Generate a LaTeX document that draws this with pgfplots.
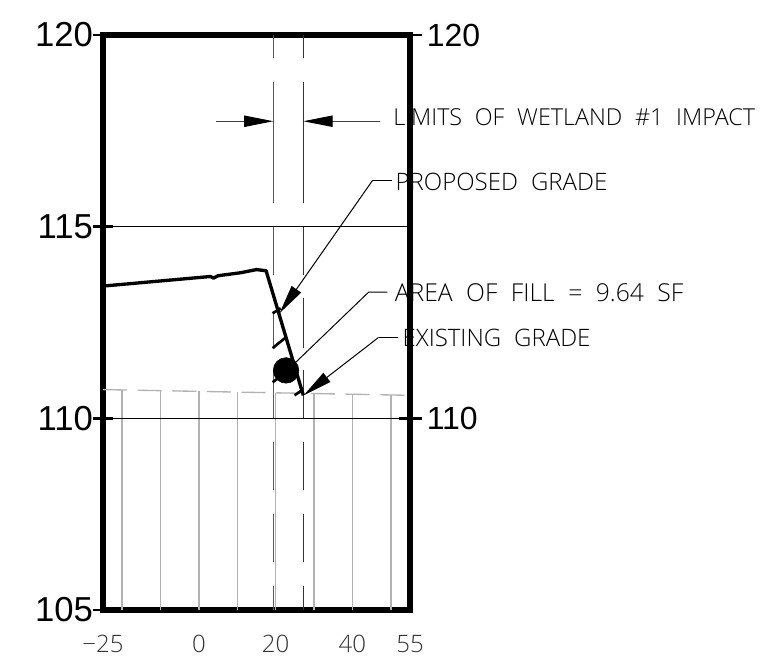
\documentclass[border=0pt]{standalone}
\usepackage{pgfplots}
\pgfplotsset{compat=1.18}
\usetikzlibrary{arrows.meta}
\usepackage{fontspec}
\setmainfont{Liberation Sans}
\newfontfamily\cad[WordSpace=2.1]{Open Sans Light}
\definecolor{grade}{gray}{0.70}
\tikzset{head/.style={-{Triangle[length=22pt,width=8.5pt,color=black]}}}
\begin{document}
\begin{tikzpicture}[x=1pt,y=1pt]
\begin{axis}[
  name=a,
  scale only axis,
  width=230.25pt, height=431.25pt,
  xmin=-25, xmax=55, ymin=105, ymax=120,
  clip=false,
  axis line style={line width=4.5pt, line cap=rect},
  xtick={-25,0,20,40,55},
  xticklabels={−25,0,20,40,55},
  ytick={105,110,115,120},
  xticklabel style={font=\cad\fontsize{18}{18}\selectfont, text=black!80, yshift=-15.5pt},
  yticklabel style={font=\fontsize{26}{26}\selectfont, xshift=-4pt},
  /pgf/number format/assume math mode=true,
  tick style={draw=none},
]
% grey existing ground and station lines
\addplot[grade, line width=1pt, dash pattern=on 18pt off 8pt] coordinates {(-25,110.75) (55,110.6)};
\foreach \s/\t in {-20/110.74,-10/110.72,0/110.7,10/110.68,20/110.66,30/110.64,40/110.62,50/110.6}{
  \edef\tmp{\noexpand\addplot[grade, line width=1.1pt] coordinates {(\s,105) (\s,\t)};}
  \tmp
}

% horizontal lines
\addplot[black, line width=0.8pt] coordinates {(-25,115) (55,115)};
\addplot[black, line width=0.8pt] coordinates {(-25,110) (55,110)};

% wetland limits
\addplot[black!65, line width=1.1pt, dash pattern=on 17.25pt off 18pt on 90.75pt off 18pt on 36pt off 27.75pt on 26.25pt off 17.25pt on 36pt off 18pt on 36pt off 18pt on 36pt off 18pt on 18pt] coordinates {(19.4,120) (19.4,105)};
\addplot[black!80, line width=1pt, dash pattern=on 17.25pt off 18pt on 90.75pt off 18pt on 36pt off 17.25pt on 37.5pt off 16.5pt on 36pt off 18pt on 36pt off 18pt on 36pt off 18pt on 18pt] coordinates {(27.2,120) (27.2,105)};

% grade
\addplot[black, line width=2.5pt, line join=round] coordinates {
 (-25,113.45) (3,113.7) (3.8,113.66) (5,113.72) (11,113.8) (15,113.88) (17.5,113.85) (27.2,110.6)};
% fill hatching
\addplot[black, line width=2pt] coordinates {(19.2,112.74) (21.3,112.87)};
\addplot[black, line width=2pt] coordinates {(19.2,111.83) (22.6,112.11)};
\addplot[black, line width=2pt] coordinates {(19.2,110.94) (20.5,111.04)};
\addplot[black, line width=2pt] coordinates {(24.9,110.6) (26.8,110.73)};
\addplot[only marks, mark=*, mark size=9.6pt, black] coordinates {(22.7,111.25)};

% limit arrows and leaders
\addplot[black!75, line width=0.8pt, head] coordinates {(4.4,117.75) (19.4,117.75)};
\addplot[black!75, line width=0.8pt, head] coordinates {(47.3,117.75) (27.2,117.75)};
\addplot[black, line width=0.75pt, head] coordinates {(45.2,116.2) (21,112.74)};
\addplot[black, line width=0.75pt] coordinates {(45.2,116.2) (50.4,116.2)};
\addplot[black, line width=0.75pt] coordinates {(25.2,111.46) (44.2,113.29) (49.1,113.29)};
\addplot[black, line width=0.75pt, head] coordinates {(46.8,112.11) (27.3,110.6)};
\addplot[black, line width=0.75pt] coordinates {(46.8,112.11) (51.9,112.11)};

% thick ticks
\addplot[black, line width=2pt] coordinates {(-27.7,120) (-25,120)};
\addplot[black, line width=2pt] coordinates {(-27.7,115) (-22.3,115)};
\addplot[black, line width=2pt] coordinates {(-27.7,110) (-22.3,110)};
\addplot[black, line width=2pt] coordinates {(-27.7,105) (-25,105)};
\addplot[black, line width=2pt] coordinates {(55,120) (58,120)};
\addplot[black, line width=2pt] coordinates {(52.2,110) (58,110)};

% right labels
\node[anchor=west, font=\fontsize{24}{24}\selectfont, inner sep=0pt] at (axis cs:59.3,120) {120};
\node[anchor=west, font=\fontsize{24}{24}\selectfont, inner sep=0pt] at (axis cs:59.3,110) {110};

% annotations
\node[anchor=west, font=\cad\fontsize{17.5}{18}\selectfont, inner sep=0pt] at (axis cs:50.6,117.85) {LIMITS OF WETLAND \#1 IMPACT};
\node[anchor=west, font=\cad\fontsize{18}{18}\selectfont, inner sep=0pt] at (axis cs:51.2,116.18) {PROPOSED GRADE};
\node[anchor=west, font=\cad\fontsize{18.5}{18}\selectfont, inner sep=0pt] at (axis cs:51,113.29) {AREA OF FILL = 9.64 SF};
\node[anchor=west, font=\cad\fontsize{18}{18}\selectfont, inner sep=0pt] at (axis cs:53,112.09) {EXISTING GRADE};
\end{axis}
\pgfresetboundingbox
\path ([shift={(-77.25pt,-37.5pt)}]a.south west) rectangle ([shift={(264pt,26.25pt)}]a.north east);
\end{tikzpicture}
\end{document}
